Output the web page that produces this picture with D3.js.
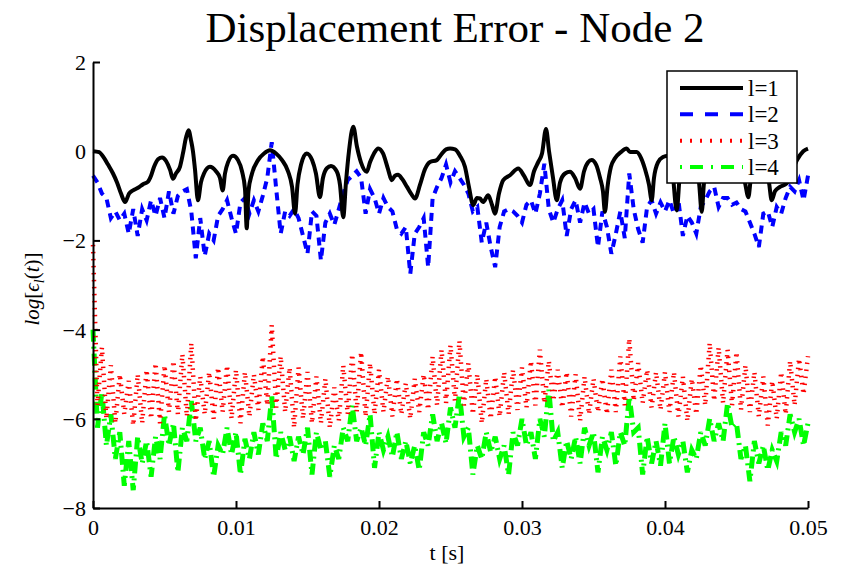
<!DOCTYPE html>
<html>
<head>
<meta charset="utf-8">
<script src="https://cdn.jsdelivr.net/npm/d3@7"></script>
<style>
  body { margin: 0; background: #fff; }
  svg { display: block; }
  text { font-family: "Liberation Serif", "Times New Roman", serif; fill: #000; }
</style>
</head>
<body>
<div id="chart"></div>
<script>
// ---- data ----
const xTicks = [0, 0.01, 0.02, 0.03, 0.04, 0.05];
const xTickLabels = ["0", "0.01", "0.02", "0.03", "0.04", "0.05"];
const yTicks = [-8, -6, -4, -2, 0, 2];
const yTickLabels = ["\u22128", "\u22126", "\u22124", "\u22122", "0", "2"];
const seriesNames = ["l=1", "l=2", "l=3", "l=4"];

// l=1 : time in ms, value
const l1TimeMs = [0, 0.42, 0.77, 1.05, 1.40, 1.68, 1.96, 2.24, 2.52, 2.80, 3.15, 3.50, 3.85, 4.06, 4.27, 4.55,
  4.83, 5.11, 5.39, 5.59, 5.80, 6.08, 6.29, 6.50, 6.68, 6.85, 6.99, 7.13, 7.34, 7.55, 7.76, 8.18, 8.60, 8.88,
  9.07, 9.23, 9.44, 9.79, 10.14, 10.42, 10.63, 10.75, 10.87, 11.12, 11.54, 11.96, 12.38, 12.80, 13.22, 13.64,
  13.92, 14.13, 14.30, 14.55, 14.94, 15.32, 15.59, 15.87, 16.08, 16.36, 16.64, 17.04, 17.27, 17.50, 17.69,
  17.90, 18.20, 18.46, 18.74, 19.14, 19.37, 19.65, 19.95, 20.28, 20.63, 20.89, 21.12, 21.33, 21.61, 21.96,
  22.24, 22.52, 22.87, 23.22, 23.57, 24.04, 24.34, 24.69, 24.97, 25.32, 25.66, 26.01, 26.29, 26.59, 26.85,
  27.06, 27.27, 27.64, 27.90, 28.11, 28.39, 28.69, 29.16, 29.74, 30.14, 30.56, 30.84, 31.14, 31.40, 31.68,
  31.89, 32.17, 32.43, 32.66, 33.01, 33.36, 33.71, 34.06, 34.34, 34.62, 34.87, 35.18, 35.46, 35.66, 35.80,
  35.98, 36.22, 36.50, 36.92, 37.32, 37.55, 38.02, 38.32, 38.60, 38.88, 39.07, 39.23, 39.51, 39.86, 40.21,
  40.49, 40.82, 41.05, 41.40, 41.75, 42.17, 42.38, 42.57, 42.73, 43.15, 43.71, 44.20, 44.76, 45.25, 45.59,
  45.83, 46.01, 46.36, 46.64, 46.99, 47.27, 47.46, 47.69, 48.04, 48.51, 48.88, 49.23, 49.67, 50.0];
const l1Values = [0.0, -0.02, -0.15, -0.3, -0.5, -0.7, -0.95, -1.14, -0.95, -0.88, -0.82, -0.74, -0.68, -0.55,
  -0.35, -0.18, -0.14, -0.22, -0.42, -0.62, -0.5, -0.35, -0.05, 0.3, 0.47, 0.25, 0.0, -0.4, -1.1, -0.7, -0.5,
  -0.35, -0.45, -0.6, -0.88, -0.5, -0.25, -0.1, -0.2, -0.45, -0.85, -1.73, -0.9, -0.5, -0.2, -0.05, 0.02,
  -0.05, -0.2, -0.45, -0.8, -1.4, -0.75, -0.3, -0.05, -0.2, -0.5, -1.03, -0.6, -0.38, -0.33, -0.45, -0.75,
  -1.48, -0.7, 0.0, 0.55, 0.1, -0.25, -0.46, -0.25, -0.05, 0.06, -0.05, -0.4, -0.65, -0.55, -0.53, -0.62,
  -0.8, -0.95, -1.06, -0.75, -0.4, -0.24, -0.2, -0.08, 0.04, 0.06, 0.04, -0.1, -0.35, -0.8, -1.21, -1.05,
  -1.06, -1.14, -0.99, -1.2, -1.4, -0.95, -0.65, -0.54, -0.39, -0.55, -0.76, -0.45, -0.24, -0.05, 0.5, 0.0,
  -0.6, -1.1, -0.7, -0.5, -0.46, -0.6, -0.84, -0.45, -0.25, -0.2, -0.3, -0.6, -0.9, -1.36, -0.8, -0.35,
  -0.16, -0.02, 0.06, -0.02, -0.02, -0.15, -0.4, -0.75, -1.1, -0.6, -0.25, -0.13, -0.1, -0.35, -1.33, -0.5,
  -0.2, -0.12, -0.3, -0.7, -1.36, -0.7, -0.25, -0.05, 0.0, -0.1, -0.35, -0.7, -1.03, -0.6, -0.3, -0.28,
  -0.4, -0.7, -1.1, -0.9, -0.8, -0.72, -0.45, -0.2, 0.0, 0.06];

// l=2..4 : sampled every 0.3125 ms from 0 to 50 ms
const sampleStep = 0.0003125;
const l2Values = [-0.55, -0.7, -0.95, -1.05, -1.5, -1.35, -1.55, -1.4, -1.85, -1.3, -1.9, -1.3, -1.55, -1.1,
  -1.45, -1.05, -1.5, -0.9, -1.4, -1.0, -0.9, -0.85, -1.35, -2.4, -1.5, -2.35, -1.85, -2.0, -1.45, -1.3, -1.1,
  -1.5, -1.85, -1.15, -1.05, -1.4, -1.1, -1.35, -1.0, -0.6, 0.2, -0.85, -1.85, -1.35, -1.45, -1.3, -1.5, -1.9,
  -2.3, -1.35, -1.45, -2.45, -1.6, -1.4, -1.65, -1.3, -0.95, -0.65, -0.55, -0.45, -0.6, -1.4, -0.85, -1.05,
  -1.4, -1.05, -1.25, -1.35, -1.75, -1.85, -1.7, -2.75, -1.85, -1.7, -1.5, -2.6, -1.05, -0.8, -0.6, -0.3,
  -0.7, -0.45, -0.6, -0.75, -0.95, -1.35, -1.25, -2.05, -1.6, -2.15, -2.6, -1.7, -1.35, -1.3, -1.35, -1.45,
  -1.6, -1.2, -1.1, -1.4, -0.95, -0.28, -1.3, -1.6, -1.3, -1.1, -1.9, -1.3, -1.1, -1.6, -1.15, -1.4, -1.3,
  -2.15, -1.35, -1.7, -2.3, -1.85, -1.35, -1.95, -0.5, -1.3, -1.75, -2.05, -1.25, -1.1, -1.4, -1.15, -1.35,
  -1.1, -1.4, -1.1, -1.9, -1.45, -1.6, -1.85, -1.25, -1.1, -0.9, -0.8, -1.25, -1.05, -1.05, -1.2, -1.15,
  -1.3, -1.35, -1.6, -1.85, -2.15, -1.4, -1.35, -1.7, -1.25, -1.4, -1.05, -0.8, -0.9, -0.65, -1.1, -0.55];
const l3Values = [-2.1, -5.7, -4.4, -6.0, -4.8, -6.1, -5.0, -5.9, -5.15, -6.15, -5.0, -6.1, -4.9, -6.0, -4.75,
  -6.1, -4.8, -5.85, -4.7, -5.9, -4.55, -5.95, -4.3, -6.05, -5.05, -5.9, -4.95, -6.0, -4.85, -5.85, -4.8,
  -6.0, -4.9, -6.1, -4.95, -5.95, -5.0, -5.8, -4.6, -5.7, -3.9, -5.75, -4.6, -5.85, -4.85, -6.2, -4.85, -6.0,
  -4.95, -6.1, -5.05, -6.1, -5.1, -6.2, -5.3, -6.05, -4.8, -5.9, -4.55, -5.85, -4.5, -5.95, -4.75, -5.9,
  -4.9, -5.85, -5.05, -5.95, -5.1, -5.9, -5.2, -6.0, -5.1, -5.85, -5.0, -5.8, -4.6, -5.7, -4.45, -5.65, -4.35,
  -5.6, -4.25, -5.7, -4.75, -5.9, -5.0, -6.1, -5.1, -6.0, -5.05, -5.95, -4.95, -5.9, -4.9, -5.8, -4.85,
  -5.75, -4.7, -5.7, -4.45, -5.65, -4.7, -5.6, -4.9, -5.75, -4.95, -5.95, -5.0, -6.05, -5.05, -5.9, -5.1,
  -5.85, -5.1, -5.9, -4.9, -5.85, -4.6, -5.7, -4.2, -5.6, -4.75, -5.65, -4.9, -5.75, -4.95, -5.8, -4.95,
  -5.85, -4.95, -5.95, -5.05, -6.05, -5.1, -5.9, -4.8, -5.7, -4.3, -5.6, -4.4, -5.65, -4.45, -5.7, -4.5,
  -5.8, -4.8, -5.85, -4.95, -5.95, -5.05, -6.15, -5.15, -6.0, -4.95, -5.9, -4.7, -5.7, -4.65, -5.45, -4.6];
const l4Values = [-4.0, -6.2, -5.4, -6.6, -5.9, -6.9, -6.3, -7.5, -6.5, -7.6, -6.4, -7.0, -6.5, -7.3, -6.4,
  -6.9, -5.9, -6.6, -6.1, -7.2, -6.2, -6.5, -5.6, -6.5, -6.2, -6.9, -6.5, -7.3, -6.6, -6.8, -6.2, -6.8, -6.3,
  -7.25, -6.45, -6.9, -6.3, -6.8, -6.1, -6.5, -5.5, -6.9, -6.3, -6.7, -6.4, -6.95, -6.4, -6.8, -6.2, -7.25,
  -6.3, -6.7, -6.5, -7.3, -6.6, -6.9, -6.2, -6.5, -5.7, -6.5, -6.2, -6.6, -5.9, -7.1, -6.3, -6.7, -6.4,
  -6.85, -6.3, -6.9, -6.5, -7.0, -6.6, -7.15, -6.3, -6.6, -5.9, -6.5, -6.1, -6.55, -5.75, -6.2, -5.45, -6.4,
  -6.2, -7.25, -6.6, -6.9, -6.3, -6.75, -6.4, -6.9, -6.6, -7.25, -6.3, -6.6, -6.0, -6.6, -6.3, -6.9, -6.0,
  -6.4, -5.35, -6.5, -6.3, -7.1, -6.5, -6.9, -6.4, -7.0, -6.2, -6.6, -6.3, -7.2, -6.4, -6.7, -6.3, -7.05,
  -6.3, -6.6, -5.5, -6.3, -6.2, -7.25, -6.4, -7.0, -6.5, -7.05, -6.1, -7.0, -6.4, -6.8, -6.5, -7.2, -6.7,
  -6.9, -6.3, -6.6, -6.0, -6.5, -6.1, -6.5, -5.65, -6.2, -6.1, -6.9, -6.6, -7.4, -6.5, -7.0, -6.6, -7.15,
  -6.7, -6.95, -6.3, -6.6, -5.9, -6.3, -6.0, -6.6, -6.1];

// ---- layout ----
const width = 841, height = 566;
const plot = { left: 93, right: 808, top: 62, bottom: 508 };

const svg = d3.select("#chart").append("svg")
  .attr("width", width)
  .attr("height", height);

const x = d3.scaleLinear().domain([0, 0.05]).range([plot.left, plot.right]);
const y = d3.scaleLinear().domain([-8, 2]).range([plot.bottom, plot.top]);

// series
const l1 = l1TimeMs.map((t, i) => ({ t: t / 1000, v: l1Values[i] }));
const toPoints = vals => vals.map((v, i) => ({ t: i * sampleStep, v: v }));

const lineSmooth = d3.line().x(d => x(d.t)).y(d => y(d.v)).curve(d3.curveMonotoneX);
const lineRaw = d3.line().x(d => x(d.t)).y(d => y(d.v));

const styles = [
  { color: "#000000", width: 4, dash: null, legendDash: null },
  { color: "#0000ff", width: 4, dash: "8,6", legendDash: "13,12" },
  { color: "#ff0000", width: 4.5, dash: "1.5,5.5", legendDash: "2,8" },
  { color: "#00ff00", width: 5, dash: "12,5,2,5", legendDash: "2,8,13,8" }
];

const g = svg.append("g");

g.append("path").datum(toPoints(l4Values))
  .attr("d", lineRaw).attr("fill", "none")
  .attr("stroke", styles[3].color).attr("stroke-width", styles[3].width)
  .attr("stroke-dasharray", styles[3].dash);

g.append("path").datum(toPoints(l3Values))
  .attr("d", lineRaw).attr("fill", "none")
  .attr("stroke", styles[2].color).attr("stroke-width", styles[2].width)
  .attr("stroke-dasharray", styles[2].dash);

g.append("path").datum(toPoints(l2Values))
  .attr("d", lineRaw).attr("fill", "none")
  .attr("stroke", styles[1].color).attr("stroke-width", styles[1].width)
  .attr("stroke-dasharray", styles[1].dash);

g.append("path").datum(l1)
  .attr("d", lineSmooth).attr("fill", "none")
  .attr("stroke", styles[0].color).attr("stroke-width", styles[0].width)
  .attr("stroke-linejoin", "round");

// axes (ticks pointing inward)
const xAxis = d3.axisBottom(x)
  .tickValues(xTicks)
  .tickFormat((d, i) => xTickLabels[i])
  .tickSizeInner(-7).tickSizeOuter(0).tickPadding(11);
const yAxis = d3.axisLeft(y)
  .tickValues(yTicks)
  .tickFormat((d, i) => yTickLabels[i])
  .tickSizeInner(-7).tickSizeOuter(0).tickPadding(7);

const gx = svg.append("g").attr("transform", `translate(0,${plot.bottom})`).call(xAxis);
const gy = svg.append("g").attr("transform", `translate(${plot.left},0)`).call(yAxis);

[gx, gy].forEach(ax => {
  ax.select(".domain").attr("stroke", "#000").attr("stroke-width", 2);
  ax.selectAll(".tick line").attr("stroke", "#000").attr("stroke-width", 2);
  ax.selectAll(".tick text")
    .style("font-family", '"Liberation Serif", "Times New Roman", serif')
    .style("font-size", "22px").attr("fill", "#000");
});
gx.selectAll(".tick text").attr("dy", "0.71em");
gy.selectAll(".tick text").attr("dy", "0.34em");

// title and axis labels
svg.append("text")
  .attr("x", 455).attr("y", 42)
  .attr("text-anchor", "middle")
  .style("font-size", "43px")
  .text("Displacement Error - Node 2");

svg.append("text")
  .attr("x", 447).attr("y", 560)
  .attr("text-anchor", "middle")
  .style("font-size", "22px")
  .text("t [s]");

const ylab = svg.append("text")
  .attr("transform", "translate(39,289) rotate(-90)")
  .attr("text-anchor", "middle")
  .style("font-size", "21px");
ylab.append("tspan").style("font-style", "italic").text("log");
ylab.append("tspan").text("[");
ylab.append("tspan").style("font-style", "italic").text("\u03f5");
ylab.append("tspan").style("font-style", "italic").style("font-size", "14px").attr("dy", 5).text("l");
ylab.append("tspan").attr("dy", -5).text("(");
ylab.append("tspan").style("font-style", "italic").text("t");
ylab.append("tspan").text(")]");

// legend
const legend = svg.append("g").attr("transform", "translate(667,71)");
legend.append("rect")
  .attr("width", 130).attr("height", 112)
  .attr("fill", "#fff").attr("stroke", "#000").attr("stroke-width", 1.5);

const legendY = d3.scalePoint().domain(seriesNames).range([17, 96]);

const items = legend.selectAll("g.item").data(seriesNames).join("g")
  .attr("class", "item")
  .attr("transform", d => `translate(0,${legendY(d)})`);

items.append("line")
  .attr("x1", 13).attr("x2", 76)
  .attr("stroke", (d, i) => styles[i].color)
  .attr("stroke-width", 4)
  .attr("stroke-dasharray", (d, i) => styles[i].legendDash);

items.append("text")
  .attr("x", 81).attr("dy", "0.35em")
  .style("font-size", "23px")
  .text(d => d);
</script>
</body>
</html>
